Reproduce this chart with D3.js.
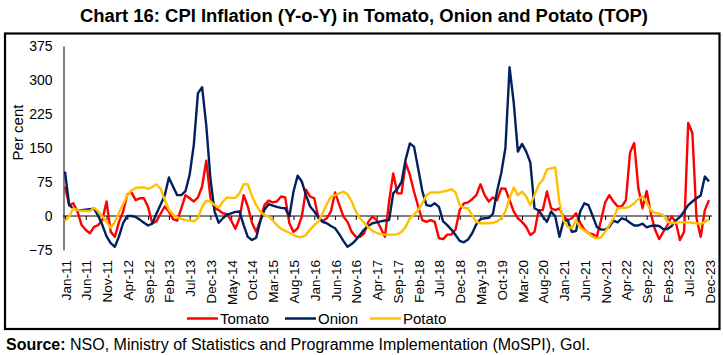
<!DOCTYPE html>
<html><head><meta charset="utf-8">
<script src="https://cdn.jsdelivr.net/npm/d3@7"></script>
<style>
body{margin:0;background:#fff;}
svg text{font-family:"Liberation Sans",Arial,sans-serif;}
</style></head>
<body><svg id="c" width="723" height="355"></svg>
<script>
const months = d3.timeMonths(new Date(2011,0,1), new Date(2024,0,1));
const tickLabels = ["Jan-11","Jun-11","Nov-11","Apr-12","Sep-12","Feb-13","Jul-13","Dec-13","May-14","Oct-14","Mar-15","Aug-15","Jan-16","Jun-16","Nov-16","Apr-17","Sep-17","Feb-18","Jul-18","Dec-18","May-19","Oct-19","Mar-20","Aug-20","Jan-21","Jun-21","Nov-21","Apr-22","Sep-22","Feb-23","Jul-23","Dec-23"];
const yTicks = [-75,0,75,150,225,300,375];

const tomato = [65,24,28,10,-20,-31,-38,-24,-20,-9,32,-35,
-46,-13,10,48,52,35,39,39,20,-16,-12,5,
21,10,-7,-10,17,46,39,32,41,65,122,40,
18,13,6,4,-10,-28,-5,46,21,-15,-35,-9,
24,34,30,32,43,41,-16,-35,-27,-1,58,43,
39,-5,-11,-5,10,52,25,-1,-13,-35,-46,-46,
-38,-13,-1,-9,-27,-46,32,94,50,50,117,91,
54,21,-9,-13,-9,-13,-49,-51,-41,-41,-30,13,
28,30,37,46,70,46,32,41,35,61,60,35,
10,-5,-13,-24,-42,-35,13,13,54,17,13,17,
-1,-9,-5,6,-15,-30,-38,-40,-46,-10,30,46,
32,21,21,35,140,161,61,17,55,6,-30,-51,
-35,-20,-1,-13,-53,-35,205,183,-5,-46,13,35];

const onion = [98,24,17,13,13,14,15,16,0,-20,-45,-60,
-68,-45,-15,0,0,-2,-8,-15,-21,-17,5,25,
45,85,65,46,46,55,91,157,271,284,200,83,
10,-15,-5,3,6,9,10,-20,-46,-53,-48,-12,
14,26,23,20,18,17,-1,54,89,76,46,21,
10,-3,-13,-16,-22,-27,-40,-55,-68,-62,-53,-42,
-30,-22,-16,-14,-12,-10,-9,50,60,75,125,160,
153,105,55,24,22,28,20,-12,-20,-30,-42,-55,
-58,-52,-38,-18,-7,-5,-4,5,55,95,150,328,
250,142,159,142,118,17,12,-1,-13,10,-1,-46,
-10,-10,-35,-33,10,28,24,0,-24,-30,-30,-24,
-10,-14,-5,-8,-15,-21,-21,-17,-25,-22,-21,-22,
-29,-29,-22,-10,-2,10,24,32,39,45,87,76];

const potato = [-11,-1,17,13,11,11,11,18,10,-1,-13,-26,
-13,8,26,46,56,62,63,63,60,64,70,60,
36,14,3,-3,-6,-9,-10,-12,-5,20,34,32,
24,18,32,41,40,40,50,70,70,44,24,10,
2,-1,-10,-20,-28,-33,-37,-42,-46,-46,-42,-30,
-20,-12,6,26,42,46,50,54,48,32,10,-5,
-15,-25,-33,-37,-40,-41,-41,-41,-40,-35,-24,-5,
3,13,28,46,52,52,52,54,56,59,52,24,
18,17,2,-13,-16,-16,-16,-15,-12,-5,10,39,
63,46,54,43,24,46,69,80,103,105,107,30,
-10,-24,-27,-9,-26,-32,-38,-46,-49,-47,-35,-20,
-5,17,18,18,21,28,38,43,30,12,7,5,
2,-13,-16,-15,-14,-14,-14,-15,-16,-18,-13,-7];

const seriesNames = ["Tomato","Onion","Potato"];
const seriesColors = ["#FF0000","#002060","#FFC000"];
const seriesData = [tomato, onion, potato];

const svg = d3.select("#c");

// outer frame
svg.append("rect").attr("x",5).attr("y",33.5).attr("width",714.5).attr("height",295.5)
  .attr("fill","none").attr("stroke","#000").attr("stroke-width",2.2);

svg.append("text").attr("x",364).attr("y",21.5).attr("text-anchor","middle")
  .attr("font-size",18).attr("font-weight","bold")
  .attr("textLength",568).attr("lengthAdjust","spacingAndGlyphs")
  .text("Chart 16: CPI Inflation (Y-o-Y) in Tomato, Onion and Potato (TOP)");

const x = d3.scaleLinear().domain([0, months.length-1]).range([65, 709]);
const y = d3.scaleLinear().domain([-75, 375]).range([250, 46]);

// y axis
const ya = svg.append("g").attr("transform","translate(63.5,0)")
  .call(d3.axisLeft(y).tickValues(yTicks).tickSize(0).tickPadding(11));
ya.select(".domain").attr("stroke","#000").attr("stroke-width",1);
ya.selectAll("text").attr("font-size",14).attr("fill","#000").attr("font-family","Liberation Sans, Arial, sans-serif");

svg.append("text").attr("transform","translate(23,132.5) rotate(-90)").attr("text-anchor","middle")
  .attr("font-size",15).text("Per cent");

// x axis at zero
const fmt = d3.timeFormat("%b-%y");
const tickIdx = months.map((d,i)=>i).filter(i=>tickLabels.includes(fmt(months[i])));
const xa = svg.append("g").attr("transform",`translate(0,${y(0)})`)
  .call(d3.axisBottom(x).tickValues(tickIdx).tickSize(4).tickFormat(()=>""));
xa.select(".domain").attr("stroke","#000").attr("stroke-width",1).attr("d",`M63,0H712`);
xa.selectAll(".tick line").attr("stroke","#000");

// tick labels at bottom
svg.append("g").selectAll("text").data(tickIdx).join("text")
  .attr("transform", i=>`translate(${x(i)+5.5},260) rotate(-90)`)
  .attr("text-anchor","end").attr("font-size",13.5).text(i=>fmt(months[i]));

// lines
const line = d3.line().x((d,i)=>x(i)).y(d=>y(d));
seriesData.forEach((s,k)=>{
  svg.append("path").datum(s).attr("d",line).attr("fill","none")
    .attr("stroke",seriesColors[k]).attr("stroke-width",2.4).attr("stroke-linejoin","round");
});

// legend
const legX = [187, 285, 370];
seriesNames.forEach((n,k)=>{
  svg.append("line").attr("x1",legX[k]).attr("x2",legX[k]+31).attr("y1",318.5).attr("y2",318.5)
    .attr("stroke",seriesColors[k]).attr("stroke-width",2.5);
  svg.append("text").attr("x",legX[k]+33).attr("y",324).attr("font-size",15).text(n);
});

const src = svg.append("text").attr("x",6).attr("y",349.5).attr("font-size",16);
src.append("tspan").attr("font-weight","bold").text("Source:");
src.append("tspan").text(" NSO, Ministry of Statistics and Programme Implementation (MoSPI), GoI.");
</script></body></html>
